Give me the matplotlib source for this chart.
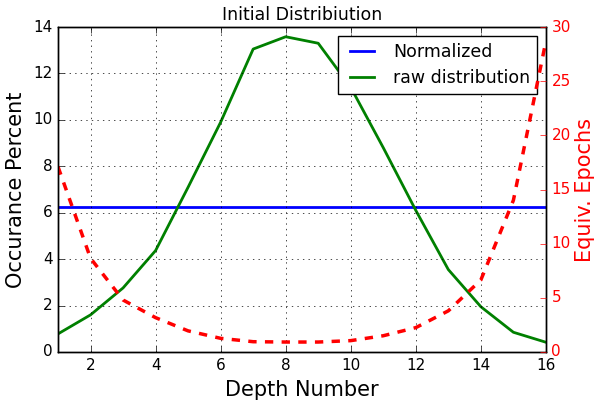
import numpy as np
from matplotlib import pyplot as plt

depth = list(range(1, 17))
normalized = [6.25] * 16
raw_distribution = [0.78, 1.6, 2.76, 4.37, 7.1, 9.9, 13.05, 13.58,
                    13.3, 11.4, 8.8, 6.1, 3.55, 1.95, 0.85, 0.42]
equiv_epochs = [17.1, 8.65, 4.8, 3.17, 1.95, 1.26, 0.95, 0.92,
                0.92, 1.05, 1.5, 2.25, 3.8, 6.65, 14.0, 28.7]

plt.style.use('classic')

fig = plt.figure(figsize=(5.95, 4.0), dpi=100)
ax = fig.add_axes([0.0975, 0.12, 0.82, 0.8125])

ax.plot(depth, normalized, color='b', lw=2, label='Normalized')
ax.plot(depth, raw_distribution, color='g', lw=2, label='raw distribution')
ax.set_xlim(1, 16)
ax.set_ylim(0, 14)
ax.set_xlabel('Depth Number', fontsize=15)
ax.set_ylabel('Occurance Percent', fontsize=15)
ax.set_title('Initial Distribiution', fontsize=12.5)
ax.tick_params(labelsize=11)
ax.grid(True, linestyle=':', dashes=(1, 3))
ax.legend(loc='upper right', fontsize=12.5)

ax2 = ax.twinx()
ax2.plot(depth, equiv_epochs, color='r', lw=2.5, linestyle='--')
ax2.set_xlim(1, 16)
ax2.set_ylim(0, 30)
ax2.set_ylabel('Equiv. Epochs', color='r', fontsize=15, labelpad=3)
ax2.tick_params(axis='y', colors='r', labelsize=11)

fig.savefig('out.png', dpi=100, facecolor='white')
